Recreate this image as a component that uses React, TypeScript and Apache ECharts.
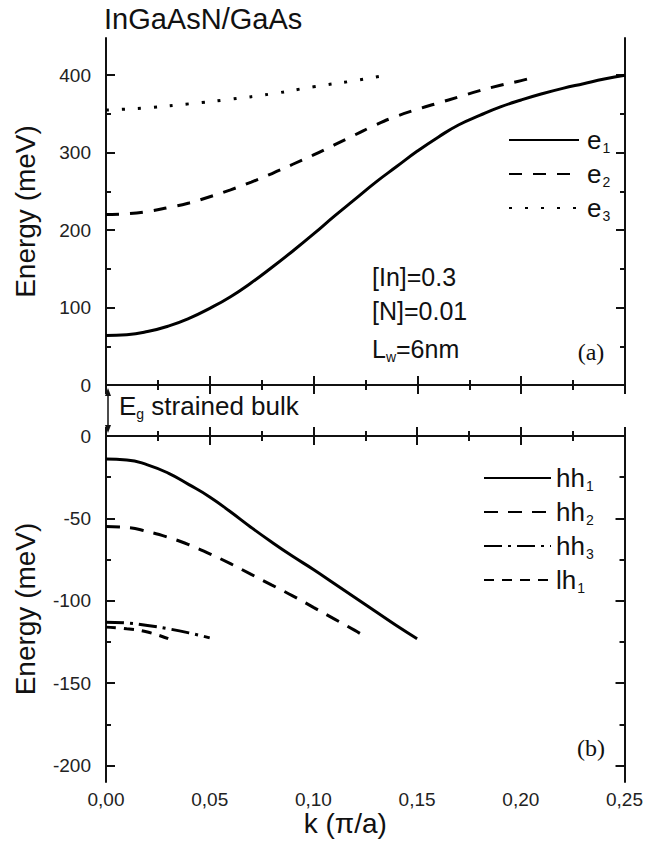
import React, { useEffect, useRef } from "react";
import * as echarts from "echarts";

// ---- data ----
const kE1 = [0, 0.01, 0.02, 0.03, 0.04, 0.05, 0.06, 0.07, 0.08, 0.09, 0.1, 0.11, 0.12, 0.13, 0.14, 0.15, 0.16, 0.17, 0.18, 0.19, 0.2, 0.21, 0.22, 0.23, 0.24, 0.25];
const e1 = [64, 65, 69, 76, 86, 99, 114, 132, 152, 173, 195, 218, 240, 262, 282, 302, 320, 336, 348, 359, 368, 376, 383, 389, 395, 400];
const kE2 = [0, 0.01, 0.02, 0.03, 0.04, 0.05, 0.06, 0.07, 0.08, 0.09, 0.1, 0.11, 0.12, 0.13, 0.14, 0.15, 0.16, 0.17, 0.18, 0.19, 0.2, 0.207];
const e2 = [220, 221, 224, 229, 235, 243, 252, 262, 273, 285, 297, 310, 323, 336, 347, 356, 364, 372, 380, 387, 393, 398];
const kE3 = [0, 0.02, 0.04, 0.06, 0.08, 0.1, 0.12, 0.135];
const e3 = [355, 358, 363, 369, 376, 385, 393, 400];

const kHh1 = [0, 0.01, 0.02, 0.03, 0.04, 0.05, 0.06, 0.07, 0.08, 0.09, 0.1, 0.11, 0.12, 0.13, 0.14, 0.15];
const hh1 = [-14, -14.5, -17.5, -22.5, -29.5, -37, -46, -55.5, -64.5, -73, -81, -89.5, -98, -106.5, -115, -123];
const kHh2 = [0, 0.01, 0.02, 0.03, 0.04, 0.05, 0.06, 0.07, 0.08, 0.09, 0.1, 0.11, 0.12, 0.124];
const hh2 = [-55, -55.5, -58, -61.5, -66, -71.5, -77.5, -84, -90.5, -97, -104, -111, -118, -121];
const kHh3 = [0, 0.01, 0.02, 0.03, 0.04, 0.05];
const hh3 = [-113, -113.5, -115, -117, -119.5, -122.5];
const kLh1 = [0, 0.01, 0.02, 0.03];
const lh1 = [-116, -117, -119, -123];

const topMajor = [0, 100, 200, 300, 400];
const topMinor = [50, 150, 250, 350];
const botMajor = [-200, -150, -100, -50, 0];
const botMinor = [-175, -125, -75, -25];

const topLegend = ["e1", "e2", "e3"];
const botLegend = ["hh1", "hh2", "hh3", "lh1"];

const FONT = "'Liberation Sans', Arial, sans-serif";
const SERIF = "'Liberation Serif', 'Times New Roman', serif";
const INK = "#111";

const pairs = (xs: number[], ys: number[]) => xs.map((x, i) => [x, ys[i]]);

const xAxisDef = (grid: number, pos: string, labels: boolean) => ({
  type: "value",
  gridIndex: grid,
  position: pos,
  min: 0,
  max: 0.25,
  interval: 0.05,
  axisLine: { show: true, lineStyle: { color: INK, width: 2 } },
  axisTick: { show: true, inside: true, length: 9, lineStyle: { color: INK, width: 2 } },
  minorTick: { show: true, splitNumber: 2, length: 5, lineStyle: { color: INK, width: 2 } },
  splitLine: { show: false },
  minorSplitLine: { show: false },
  axisLabel: {
    show: labels,
    margin: 8,
    fontSize: 19,
    fontFamily: FONT,
    color: "#222",
    formatter: (v: number) => v.toFixed(2).replace(".", ","),
  },
  ...(labels
    ? {
        name: "k (π/a)",
        nameLocation: "middle",
        nameGap: 17,
        nameTextStyle: { fontSize: 28, fontFamily: FONT, color: INK, padding: [0, 40, 0, 0] },
      }
    : {}),
});

const yAxisDef = (
  grid: number,
  pos: string,
  min: number,
  max: number,
  ticks: number[],
  major: boolean,
  labels: boolean
) => ({
  type: "value",
  gridIndex: grid,
  position: pos,
  min,
  max,
  axisLine: { show: major, lineStyle: { color: INK, width: 2 } },
  axisTick: {
    show: true,
    inside: true,
    length: major ? 9 : 5,
    customValues: ticks,
    lineStyle: { color: INK, width: 2 },
  },
  splitLine: { show: false },
  axisLabel: {
    show: labels,
    customValues: ticks,
    margin: 15,
    fontSize: 19,
    fontFamily: FONT,
    color: "#222",
  },
  ...(labels
    ? {
        name: "Energy (meV)",
        nameLocation: "middle",
        nameGap: 67,
        nameTextStyle: { fontSize: 28, fontFamily: FONT, color: INK },
      }
    : {}),
});

const line = (name: string, xi: number, yi: number, data: number[][], type: any) => ({
  name,
  type: "line",
  xAxisIndex: xi,
  yAxisIndex: yi,
  data,
  showSymbol: false,
  symbol: "none",
  smooth: true,
  lineStyle: { color: "#000", width: 3, type, cap: "butt" },
  itemStyle: { color: "#000" },
  silent: true,
});

const legendFormatter = (name: string) => {
  const base = name.slice(0, -1);
  const sub = name.slice(-1);
  return `{m|${base}}{s|${sub}}`;
};

const legendRich = {
  m: { fontSize: 26, fontFamily: FONT, color: INK },
  s: { fontSize: 14, fontFamily: FONT, color: INK, padding: [16, 0, 0, 1] },
};

const legendCommon = {
  orient: "vertical",
  padding: 0,
  itemHeight: 14,
  itemGap: 6,
  selectedMode: false,
  formatter: legendFormatter,
  itemStyle: { opacity: 0, borderWidth: 0 },
};

const option: any = {
  animation: false,
  backgroundColor: "#fff",
  title: {
    text: "InGaAsN/GaAs",
    left: 104,
    top: 4,
    padding: 0,
    textStyle: { fontSize: 29, fontWeight: "normal", fontFamily: FONT, color: INK },
  },
  grid: [
    { left: 106, top: 38, right: 21, height: 347 },
    { left: 106, top: 436, right: 21, height: 346 },
  ],
  xAxis: [xAxisDef(0, "bottom", false), xAxisDef(0, "top", false), xAxisDef(1, "bottom", true), xAxisDef(1, "top", false)],
  yAxis: [
    yAxisDef(0, "left", 0, 448, topMajor, true, true),
    yAxisDef(0, "left", 0, 448, topMinor, false, false),
    yAxisDef(0, "right", 0, 448, topMajor, true, false),
    yAxisDef(0, "right", 0, 448, topMinor, false, false),
    yAxisDef(1, "left", -210, 0, botMajor, true, true),
    yAxisDef(1, "left", -210, 0, botMinor, false, false),
    yAxisDef(1, "right", -210, 0, botMajor, true, false),
    yAxisDef(1, "right", -210, 0, botMinor, false, false),
  ],
  legend: [
    {
      ...legendCommon,
      data: topLegend,
      left: 508,
      top: 127,
      itemWidth: 70,
      textStyle: { rich: legendRich, padding: [0, 0, 0, 3] },
    },
    {
      ...legendCommon,
      data: botLegend,
      left: 483,
      top: 465,
      itemWidth: 67,
      textStyle: { rich: legendRich, padding: [0, 0, 0, 0] },
    },
  ],
  series: [
    line("e1", 0, 0, pairs(kE1, e1), "solid"),
    line("e2", 0, 0, pairs(kE2, e2), [13, 11]),
    line("e3", 0, 0, pairs(kE3, e3), [3, 13]),
    line("hh1", 2, 4, pairs(kHh1, hh1), "solid"),
    line("hh2", 2, 4, pairs(kHh2, hh2), [14, 10]),
    line("hh3", 2, 4, pairs(kHh3, hh3), [18, 6, 3, 6]),
    line("lh1", 2, 4, pairs(kLh1, lh1), [10, 8]),
  ],
};

export default function App() {
  const ref = useRef<HTMLDivElement>(null);
  useEffect(() => {
    const chart = echarts.init(ref.current!, null, { renderer: "svg" });
    chart.setOption(option);
    const a = chart.convertToPixel({ xAxisIndex: 0, yAxisIndex: 0 }, [0, 0]) as number[];
    const b = chart.convertToPixel({ xAxisIndex: 2, yAxisIndex: 4 }, [0, 0]) as number[];
    const ax = a[0] + 2;
    const y1 = a[1] + 3;
    const y2 = b[1] - 3;
    const textStyle = { fontSize: 25, fontFamily: FONT, fill: INK };
    const sub = { fontSize: 14, fontFamily: FONT, fill: INK, padding: [16, 0, 0, 0] };
    chart.setOption({
      graphic: [
        { type: "line", shape: { x1: ax, y1: y1 + 6, x2: ax, y2: y2 - 6 }, style: { stroke: INK, lineWidth: 1.5 } },
        { type: "polygon", shape: { points: [[ax, y1], [ax - 3, y1 + 8], [ax + 3, y1 + 8]] }, style: { fill: INK } },
        { type: "polygon", shape: { points: [[ax, y2], [ax - 3, y2 - 8], [ax + 3, y2 - 8]] }, style: { fill: INK } },
        {
          type: "text",
          x: 119,
          y: 406,
          style: {
            text: "{m|E}{s|g}{m| strained bulk}",
            verticalAlign: "middle",
            rich: { m: { fontSize: 26, fontFamily: FONT, fill: INK }, s: sub },
          },
        },
        { type: "text", x: 372, y: 277, style: { text: "[In]=0.3", verticalAlign: "middle", ...textStyle } },
        { type: "text", x: 372, y: 311, style: { text: "[N]=0.01", verticalAlign: "middle", ...textStyle } },
        {
          type: "text",
          x: 372,
          y: 349,
          style: {
            text: "{m|L}{s|w}{m|=6nm}",
            verticalAlign: "middle",
            rich: { m: textStyle, s: sub },
          },
        },
        { type: "text", x: 591, y: 352, style: { text: "(a)", align: "center", verticalAlign: "middle", fontSize: 24, fontFamily: SERIF, fill: INK } },
        { type: "text", x: 591, y: 748, style: { text: "(b)", align: "center", verticalAlign: "middle", fontSize: 24, fontFamily: SERIF, fill: INK } },
      ],
    });
    return () => chart.dispose();
  }, []);
  return <div ref={ref} style={{ position: "absolute", left: 0, top: 0, width: 646, height: 846 }} />;
}
